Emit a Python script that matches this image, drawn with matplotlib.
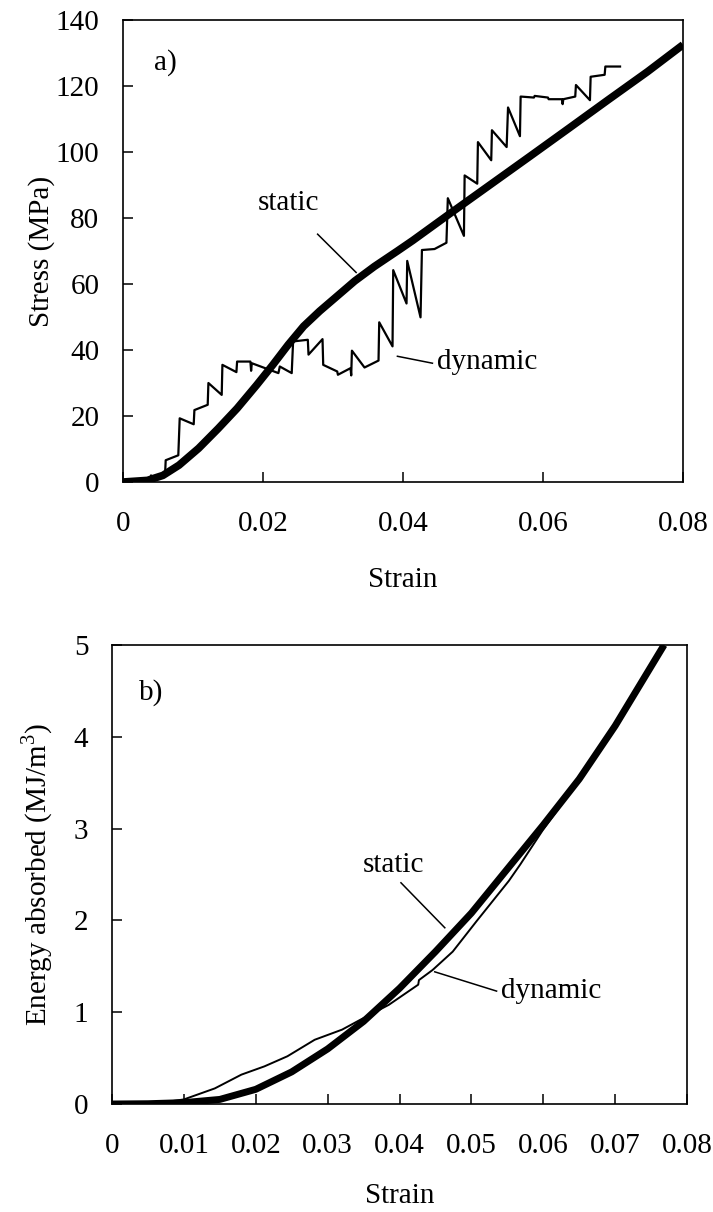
import matplotlib
matplotlib.use("Agg")
import matplotlib.pyplot as plt

plt.rcParams['font.family'] = ['Liberation Serif', 'DejaVu Serif']
plt.rcParams['font.size'] = 21
plt.rcParams['mathtext.fontset'] = 'custom'
plt.rcParams['mathtext.rm'] = 'Liberation Serif'

# a) stress-strain, static (thick) and dynamic (thin, stepped)
static_strain = [0, 0.0035, 0.0057, 0.008, 0.0108, 0.0136, 0.0163, 0.0191, 0.0214,
                 0.0236, 0.0258, 0.0281, 0.0303, 0.0331, 0.0359, 0.0392, 0.0414,
                 0.047, 0.0526, 0.0582, 0.0637, 0.0693, 0.0749, 0.08]
static_stress = [0, 0.5, 2.0, 5.1, 10.2, 16.2, 22.3, 29.4, 35.5,
                 41.6, 47.2, 51.8, 55.8, 60.9, 65.3, 70.0, 73.2,
                 81.8, 90.3, 98.8, 107.2, 115.8, 124.3, 132.5]

dyn_strain = [0, 0.0039, 0.0040, 0.0046, 0.0060, 0.0061, 0.0079, 0.0081, 0.0101, 0.0102,
              0.0121, 0.0122, 0.0141, 0.0142, 0.0162, 0.0163, 0.0182, 0.0183, 0.0184,
              0.0222, 0.0224, 0.0241, 0.0243, 0.0264, 0.0265, 0.0285, 0.0286, 0.0306,
              0.0307, 0.0325, 0.0326, 0.0327, 0.0345, 0.0365, 0.0366, 0.0385, 0.0386,
              0.0405, 0.0406, 0.0425, 0.0427, 0.0445, 0.0462, 0.0464, 0.0487, 0.0488,
              0.0506, 0.0507, 0.0526, 0.0527, 0.0548, 0.0550, 0.0567, 0.0568, 0.0587,
              0.0588, 0.0607, 0.0608, 0.0627, 0.0628, 0.0629, 0.0646, 0.0647, 0.0667,
              0.0668, 0.0688, 0.0689, 0.0710]
dyn_stress = [0, 0.2, 2.0, 1.0, 1.8, 6.6, 8.1, 19.3, 17.5, 21.8,
              23.4, 30.0, 26.4, 35.5, 33.3, 36.5, 36.5, 33.7, 36.0,
              33.0, 35.0, 33.0, 42.6, 43.1, 38.6, 43.3, 35.5, 33.5,
              32.5, 34.5, 32.3, 39.8, 34.7, 36.8, 48.4, 41.1, 64.2,
              54.1, 67.0, 49.9, 70.3, 70.6, 72.5, 86.0, 74.6, 92.9,
              90.4, 103.0, 97.5, 106.6, 101.5, 113.5, 104.8, 116.8, 116.5,
              117.0, 116.5, 116.0, 116.0, 114.5, 116.0, 116.8, 120.3, 115.7,
              122.8, 123.4, 125.9, 125.9]

# b) energy absorbed
static_e_strain = [0, 0.005, 0.01, 0.015, 0.02, 0.025, 0.03, 0.035, 0.04, 0.045,
                   0.05, 0.055, 0.06, 0.065, 0.07, 0.0768]
static_energy = [0, 0.003, 0.015, 0.05, 0.16, 0.35, 0.6, 0.9, 1.26, 1.66,
                 2.08, 2.56, 3.04, 3.54, 4.12, 5.0]

dyn_e_strain = [0, 0.006, 0.01, 0.0143, 0.018, 0.0212, 0.0244, 0.0282, 0.032, 0.0346,
                0.0385, 0.0426, 0.0427, 0.0446, 0.0474, 0.0507, 0.0552, 0.0568, 0.0599,
                0.065, 0.071]
dyn_energy = [0, 0.005, 0.05, 0.17, 0.32, 0.41, 0.52, 0.70, 0.81, 0.92,
              1.08, 1.30, 1.35, 1.46, 1.66, 1.99, 2.43, 2.61, 2.98,
              3.53, 4.25]

fig = plt.figure(figsize=(7.13, 12.12), dpi=100)
ax1 = fig.add_axes([0.1725, 0.6023, 0.7855, 0.3812])
ax2 = fig.add_axes([0.1571, 0.0891, 0.8065, 0.3787])

for ax in (ax1, ax2):
    for sp in ax.spines.values():
        sp.set_linewidth(1.2)
    ax.tick_params(direction='in', length=7, width=1.1, top=False, right=False)
    ax.tick_params(axis='x', pad=21)
    ax.tick_params(axis='y', pad=17)

# ---- a)
ax1.plot(dyn_strain, dyn_stress, color='k', lw=1.6)
ax1.plot(static_strain, static_stress, color='k', lw=5.5, solid_capstyle='butt')
ax1.set_xlim(0, 0.08)
ax1.set_ylim(0, 140)
ax1.set_xticks([0, 0.02, 0.04, 0.06, 0.08])
ax1.set_xticklabels(['0', '0.02', '0.04', '0.06', '0.08'])
ax1.set_yticks(range(0, 141, 20))
ax1.set_xlabel('Strain')
ax1.set_ylabel('Stress (MPa)')
ax1.xaxis.set_label_coords(0.5, -0.183)
ax1.yaxis.set_label_coords(-0.122, 0.5)
ax1.text(0.006, 127, 'a)', ha='center', va='center')
ax1.text(0.0236, 84.5, 'static', ha='center', va='center')
ax1.plot([0.0278, 0.0333], [75.1, 63.5], color='k', lw=1.1)
ax1.text(0.0449, 36.5, 'dynamic', ha='left', va='center')
ax1.plot([0.0392, 0.0442], [38.1, 36.0], color='k', lw=1.1)

# ---- b)
ax2.plot(dyn_e_strain, dyn_energy, color='k', lw=1.4)
ax2.plot(static_e_strain, static_energy, color='k', lw=5.0, solid_capstyle='butt')
ax2.set_xlim(0, 0.08)
ax2.set_ylim(0, 5)
ax2.set_xticks([0, 0.01, 0.02, 0.03, 0.04, 0.05, 0.06, 0.07, 0.08])
ax2.set_xticklabels(['0', '0.01', '0.02', '0.03', '0.04', '0.05', '0.06', '0.07', '0.08'])
ax2.set_yticks(range(0, 6))
ax2.set_xlabel('Strain')
ax2.set_ylabel(r'Energy absorbed (MJ/m$^\mathregular{3}$)')
ax2.xaxis.set_label_coords(0.5, -0.172)
ax2.yaxis.set_label_coords(-0.1, 0.5)
ax2.text(0.0055, 4.48, 'b)', ha='center', va='center')
ax2.text(0.0391, 2.6, 'static', ha='center', va='center')
ax2.plot([0.0402, 0.0463], [2.41, 1.92], color='k', lw=1.1)
ax2.text(0.0541, 1.23, 'dynamic', ha='left', va='center')
ax2.plot([0.0449, 0.0535], [1.44, 1.23], color='k', lw=1.1)

fig.savefig('out.png', dpi=100)
